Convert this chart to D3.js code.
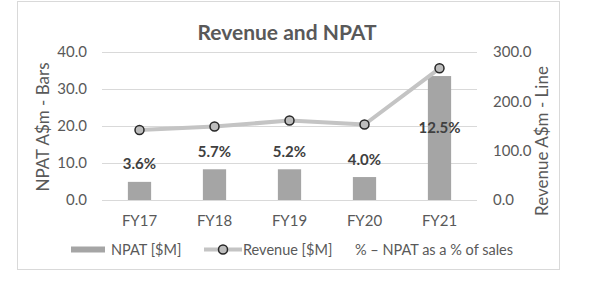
<!DOCTYPE html>
<html><head><meta charset="utf-8">
<script src="https://cdn.jsdelivr.net/npm/d3@7"></script>
<style>body{margin:0;background:#fff;}svg{display:block;font-family:Lato,"Open Sans",sans-serif;}</style>
</head><body><svg id="c" width="601" height="290"></svg>
<script>
const categories = ["FY17","FY18","FY19","FY20","FY21"];
const npat = [4.9, 8.3, 8.3, 6.2, 33.5];
const revenue = [142, 149, 161, 153, 267];
const pctLabels = ["3.6%","5.7%","5.2%","4.0%","12.5%"];
const pctLabelLevel = [9.7, 13.0, 13.0, 10.8, 19.5];
const leftTicks = [0,10,20,30,40];
const rightTicks = [0,100,200,300];

const svg = d3.select("#c");
const W = 601, H = 290;
const plot = {l:102, r:477, t:52, b:200};

svg.append("rect").attr("x",17.5).attr("y",1.5).attr("width",542).attr("height",268)
  .attr("fill","#fff").attr("stroke","#d9d9d9");

const x = d3.scaleBand().domain(categories).range([plot.l, plot.r]).paddingInner(0.69).paddingOuter(0.345);
const yL = d3.scaleLinear().domain([0,40]).range([plot.b, plot.t]);
const yR = d3.scaleLinear().domain([0,300]).range([plot.b, plot.t]);

// gridlines
svg.append("g").selectAll("line").data(leftTicks).join("line")
  .attr("x1",plot.l).attr("x2",plot.r)
  .attr("y1",d=>Math.round(yL(d))+0.5).attr("y2",d=>Math.round(yL(d))+0.5)
  .attr("stroke","#d9d9d9").attr("stroke-width",1);

// axes labels
const leftAxis = d3.axisLeft(yL).tickValues(leftTicks).tickFormat(d3.format(".1f")).tickSize(0).tickPadding(15);
const gL = svg.append("g").attr("transform",`translate(${plot.l},0)`).call(leftAxis);
gL.select(".domain").remove();
gL.selectAll("text").attr("fill","#595959").style("font-size","15px").style("font-family","Lato");

const rightAxis = d3.axisRight(yR).tickValues(rightTicks).tickFormat(d3.format(".1f")).tickSize(0).tickPadding(16);
const gR = svg.append("g").attr("transform",`translate(${plot.r},0)`).call(rightAxis);
gR.select(".domain").remove();
gR.selectAll("text").attr("fill","#595959").style("font-size","15px").style("font-family","Lato");

const bottomAxis = d3.axisBottom(x).tickSize(0).tickPadding(15);
const gB = svg.append("g").attr("transform",`translate(0,${plot.b})`).call(bottomAxis);
gB.select(".domain").remove();
gB.selectAll("text").attr("fill","#595959").style("font-size","15px").style("font-family","Lato");

// bars
svg.append("g").selectAll("rect").data(npat).join("rect")
  .attr("x",(d,i)=>x(categories[i])).attr("width",x.bandwidth())
  .attr("y",d=>yL(d)).attr("height",d=>yL(0)-yL(d))
  .attr("fill","#a5a5a5");

// line
const line = d3.line().x((d,i)=>x(categories[i])+x.bandwidth()/2).y(d=>yR(d));
svg.append("path").datum(revenue).attr("d",line).attr("fill","none")
  .attr("stroke","#c4c4c4").attr("stroke-width",4).attr("stroke-linejoin","round");
svg.append("g").selectAll("circle").data(revenue).join("circle")
  .attr("cx",(d,i)=>x(categories[i])+x.bandwidth()/2).attr("cy",d=>yR(d)).attr("r",4.5)
  .attr("fill","#bdbdbd").attr("stroke","#262626").attr("stroke-width",1.5);

// percent labels
svg.append("g").selectAll("text").data(pctLabels).join("text")
  .attr("x",(d,i)=>x(categories[i])+x.bandwidth()/2).attr("y",(d,i)=>yL(pctLabelLevel[i]))
  .attr("dy","0.35em").attr("text-anchor","middle")
  .style("font-size","15px").style("font-weight","bold").attr("fill","#404040")
  .text(d=>d);

// title
svg.append("text").attr("x",287).attr("y",33).attr("dy","0.35em").attr("text-anchor","middle")
  .style("font-size","21px").style("font-weight","bold").attr("fill","#595959").text("Revenue and NPAT");

// axis titles
svg.append("text").attr("transform","translate(43,127) rotate(-90)").attr("dy","0.35em")
  .attr("text-anchor","middle").style("font-size","17px").attr("fill","#595959").text("NPAT A$m - Bars");
svg.append("text").attr("transform","translate(542,141) rotate(-90)").attr("dy","0.35em")
  .attr("text-anchor","middle").style("font-size","17px").attr("fill","#595959").text("Revenue A$m - Line");

// legend
const ly = 249.5;
svg.append("rect").attr("x",71).attr("y",ly-3).attr("width",34).attr("height",6).attr("fill","#a5a5a5");
svg.append("text").attr("x",111).attr("y",ly).attr("dy","0.35em").style("font-size","14.5px").attr("fill","#595959").text("NPAT [$M]");
svg.append("line").attr("x1",204).attr("x2",242).attr("y1",ly).attr("y2",ly).attr("stroke","#c4c4c4").attr("stroke-width",4);
svg.append("circle").attr("cx",223).attr("cy",ly).attr("r",4.5).attr("fill","#bdbdbd").attr("stroke","#262626").attr("stroke-width",1.5);
svg.append("text").attr("x",243).attr("y",ly).attr("dy","0.35em").style("font-size","14.5px").attr("fill","#595959").text("Revenue [$M]");
svg.append("text").attr("x",355).attr("y",ly).attr("dy","0.35em").style("font-size","14.5px").attr("fill","#595959").text("% \u2013 NPAT as a % of sales");
</script></body></html>
